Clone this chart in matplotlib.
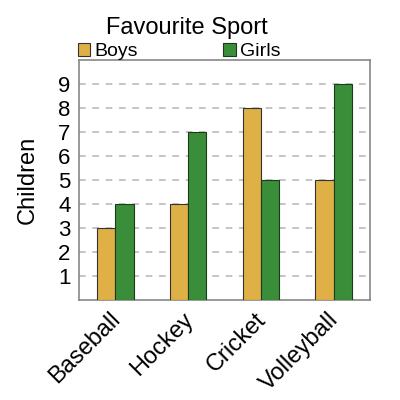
import numpy as np
import matplotlib
matplotlib.use('Agg')
import matplotlib.pyplot as plt

sports = ['Baseball', 'Hockey', 'Cricket', 'Volleyball']
boys = [3, 4, 8, 5]
girls = [4, 7, 5, 9]
yticks = [1, 2, 3, 4, 5, 6, 7, 8, 9]

BOYS_COLOR = '#dfb046'
GIRLS_COLOR = '#3a8e3a'


def main():
    plt.rcParams['font.family'] = ['Liberation Sans', 'DejaVu Sans']
    fig = plt.figure(figsize=(4, 4), dpi=100)
    ax = fig.add_axes([0.1975, 0.25, 0.7275, 0.60])

    x = np.arange(len(sports))
    w = 0.25
    ax.bar(x - w / 2, boys, w, color=BOYS_COLOR, edgecolor='#333333',
           linewidth=0.8, label='Boys', zorder=3)
    ax.bar(x + w / 2, girls, w, color=GIRLS_COLOR, edgecolor='#1a3a1a',
           linewidth=0.8, label='Girls', zorder=3)

    ax.set_xlim(-0.5, len(sports) - 0.5)
    ax.set_ylim(0, 10)
    ax.set_yticks(yticks)
    ax.set_yticklabels([str(t) for t in yticks], fontsize=16)
    ax.set_xticks(x - 0.08)
    ax.set_xticklabels(sports, rotation=45, ha='right', va='top',
                       rotation_mode='anchor', fontsize=17)
    ax.tick_params(length=0, pad=6)
    ax.yaxis.grid(True, linestyle=(0, (4, 4)), color='#bbbbbb',
                  linewidth=1.2, zorder=0)
    ax.set_axisbelow(True)
    for s in ax.spines.values():
        s.set_color('#888888')
        s.set_linewidth(1.2)

    ax.set_ylabel('Children', fontsize=17, labelpad=14)

    ax.legend(loc='lower left', bbox_to_anchor=(-0.005, 1.0), ncol=2,
              frameon=False, fontsize=14, borderaxespad=0, borderpad=0,
              handlelength=0.65, handleheight=0.65, handletextpad=0.2,
              columnspacing=4.4)

    fig.text(0.468, 0.93, 'Favourite Sport', ha='center', va='center',
             fontsize=17)

    fig.savefig('out.png', dpi=100)


if __name__ == '__main__':
    main()
